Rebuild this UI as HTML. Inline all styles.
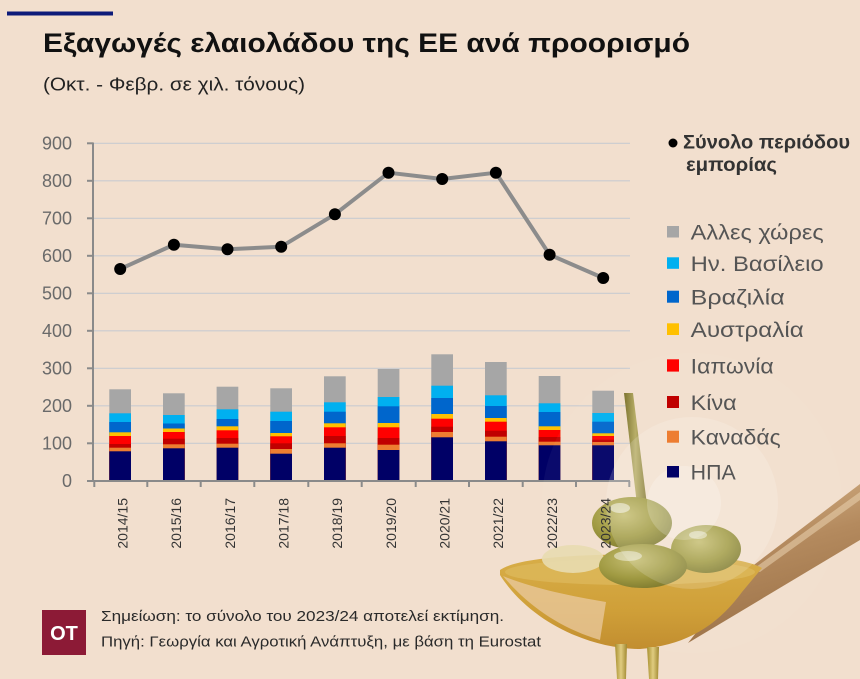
<!DOCTYPE html>
<html>
<head>
<meta charset="utf-8">
<style>
html,body{margin:0;padding:0;background:#f2dfce;}
svg{display:block;}
text{font-family:"Liberation Sans","DejaVu Sans",sans-serif;}
.g{fill:#a6a6a6}.lb{fill:#00b0f0}.b{fill:#0066cc}.y{fill:#ffc000}.r{fill:#ff0000}.dr{fill:#c00000}.o{fill:#ed7d31}.n{fill:#000066}
.yl{font-size:18px;fill:#6a6a6a;text-anchor:end}
.xl{font-size:14px;fill:#333;text-anchor:end}
.lg{font-size:21px;fill:#555}
</style>
</head>
<body>
<svg width="860" height="679" viewBox="0 0 860 679" xmlns="http://www.w3.org/2000/svg">
<defs>
<linearGradient id="hand" x1="0" y1="0" x2="0.3" y2="1">
<stop offset="0" stop-color="#d9b78c"/><stop offset="0.5" stop-color="#b48a5e"/><stop offset="1" stop-color="#9c7248"/>
</linearGradient>
<linearGradient id="bowl" x1="0" y1="0" x2="0" y2="1">
<stop offset="0" stop-color="#d8ae48"/><stop offset="0.6" stop-color="#cf9f38"/><stop offset="1" stop-color="#c28e30"/>
</linearGradient>
<radialGradient id="ol" cx="0.4" cy="0.35" r="0.7">
<stop offset="0" stop-color="#c6be72"/><stop offset="0.6" stop-color="#a09a42"/><stop offset="1" stop-color="#7e7a2e"/>
</radialGradient>
<linearGradient id="stick" x1="0" y1="0" x2="1" y2="0">
<stop offset="0" stop-color="#7d7430"/><stop offset="0.5" stop-color="#b8ae68"/><stop offset="1" stop-color="#857a34"/>
</linearGradient>
<linearGradient id="drip" x1="0" y1="0" x2="1" y2="0">
<stop offset="0" stop-color="#a89030"/><stop offset="0.5" stop-color="#e0cc80"/><stop offset="1" stop-color="#a08830"/>
</linearGradient>
</defs>

<rect x="0" y="0" width="860" height="679" fill="#f2dfce"/>

<!-- top accent line -->
<rect x="7" y="11.5" width="106" height="4" fill="#0d1b7a"/>

<!-- title -->
<text x="43" y="52" font-size="27" font-weight="bold" fill="#111" textLength="647" lengthAdjust="spacingAndGlyphs">Εξαγωγές ελαιολάδου της ΕΕ ανά προορισμό</text>
<text x="43" y="90.5" font-size="18" fill="#222" textLength="262" lengthAdjust="spacingAndGlyphs">(Οκτ. - Φεβρ. σε χιλ. τόνους)</text>

<!-- gridlines -->
<g stroke="#c9cbd0" stroke-width="1.2">
<line x1="93" y1="143.3" x2="630" y2="143.3"/>
<line x1="93" y1="180.8" x2="630" y2="180.8"/>
<line x1="93" y1="218.3" x2="630" y2="218.3"/>
<line x1="93" y1="255.8" x2="630" y2="255.8"/>
<line x1="93" y1="293.3" x2="630" y2="293.3"/>
<line x1="93" y1="330.8" x2="630" y2="330.8"/>
<line x1="93" y1="368.3" x2="630" y2="368.3"/>
<line x1="93" y1="405.8" x2="630" y2="405.8"/>
<line x1="93" y1="443.3" x2="630" y2="443.3"/>
</g>

<!-- y labels -->
<text class="yl" x="72" y="149.5">900</text>
<text class="yl" x="72" y="187">800</text>
<text class="yl" x="72" y="224.5">700</text>
<text class="yl" x="72" y="262">600</text>
<text class="yl" x="72" y="299.5">500</text>
<text class="yl" x="72" y="337">400</text>
<text class="yl" x="72" y="374.5">300</text>
<text class="yl" x="72" y="412">200</text>
<text class="yl" x="72" y="449.5">100</text>
<text class="yl" x="72" y="487">0</text>

<!-- bars -->
<g>
<rect class="g" x="109.3" y="389.3" width="21.7" height="91.7"/>
<rect class="lb" x="109.3" y="413.3" width="21.7" height="67.7"/>
<rect class="b" x="109.3" y="422" width="21.7" height="59"/>
<rect class="y" x="109.3" y="432.3" width="21.7" height="48.7"/>
<rect class="r" x="109.3" y="436" width="21.7" height="45"/>
<rect class="dr" x="109.3" y="444" width="21.7" height="37"/>
<rect class="o" x="109.3" y="447.7" width="21.7" height="33.3"/>
<rect class="n" x="109.3" y="451.3" width="21.7" height="29.7"/>

<rect class="g" x="163" y="393.3" width="21.7" height="87.7"/>
<rect class="lb" x="163" y="415" width="21.7" height="66"/>
<rect class="b" x="163" y="423.5" width="21.7" height="57.5"/>
<rect class="y" x="163" y="428.5" width="21.7" height="52.5"/>
<rect class="r" x="163" y="432" width="21.7" height="49"/>
<rect class="dr" x="163" y="438.7" width="21.7" height="42.3"/>
<rect class="o" x="163" y="444.3" width="21.7" height="36.7"/>
<rect class="n" x="163" y="448.3" width="21.7" height="32.7"/>

<rect class="g" x="216.6" y="386.7" width="21.7" height="94.3"/>
<rect class="lb" x="216.6" y="409.3" width="21.7" height="71.7"/>
<rect class="b" x="216.6" y="419" width="21.7" height="62"/>
<rect class="y" x="216.6" y="426.3" width="21.7" height="54.7"/>
<rect class="r" x="216.6" y="430.3" width="21.7" height="50.7"/>
<rect class="dr" x="216.6" y="438" width="21.7" height="43"/>
<rect class="o" x="216.6" y="443.7" width="21.7" height="37.3"/>
<rect class="n" x="216.6" y="447.7" width="21.7" height="33.3"/>

<rect class="g" x="270.3" y="388.3" width="21.7" height="92.7"/>
<rect class="lb" x="270.3" y="411.7" width="21.7" height="69.3"/>
<rect class="b" x="270.3" y="421" width="21.7" height="60"/>
<rect class="y" x="270.3" y="433" width="21.7" height="48"/>
<rect class="r" x="270.3" y="436.3" width="21.7" height="44.7"/>
<rect class="dr" x="270.3" y="443.3" width="21.7" height="37.7"/>
<rect class="o" x="270.3" y="449" width="21.7" height="32"/>
<rect class="n" x="270.3" y="453.7" width="21.7" height="27.3"/>

<rect class="g" x="324" y="376.3" width="21.7" height="104.7"/>
<rect class="lb" x="324" y="402.3" width="21.7" height="78.7"/>
<rect class="b" x="324" y="411.7" width="21.7" height="69.3"/>
<rect class="y" x="324" y="423.3" width="21.7" height="57.7"/>
<rect class="r" x="324" y="427.3" width="21.7" height="53.7"/>
<rect class="dr" x="324" y="436" width="21.7" height="45"/>
<rect class="o" x="324" y="443.3" width="21.7" height="37.7"/>
<rect class="n" x="324" y="447.7" width="21.7" height="33.3"/>

<rect class="g" x="377.7" y="369" width="21.7" height="112"/>
<rect class="lb" x="377.7" y="397" width="21.7" height="84"/>
<rect class="b" x="377.7" y="406.3" width="21.7" height="74.7"/>
<rect class="y" x="377.7" y="423" width="21.7" height="58"/>
<rect class="r" x="377.7" y="427.3" width="21.7" height="53.7"/>
<rect class="dr" x="377.7" y="438" width="21.7" height="43"/>
<rect class="o" x="377.7" y="444.7" width="21.7" height="36.3"/>
<rect class="n" x="377.7" y="450" width="21.7" height="31"/>

<rect class="g" x="431.3" y="354.3" width="21.7" height="126.7"/>
<rect class="lb" x="431.3" y="385.7" width="21.7" height="95.3"/>
<rect class="b" x="431.3" y="398" width="21.7" height="83"/>
<rect class="y" x="431.3" y="414" width="21.7" height="67"/>
<rect class="r" x="431.3" y="418.7" width="21.7" height="62.3"/>
<rect class="dr" x="431.3" y="426.7" width="21.7" height="54.3"/>
<rect class="o" x="431.3" y="432" width="21.7" height="49"/>
<rect class="n" x="431.3" y="437.3" width="21.7" height="43.7"/>

<rect class="g" x="485" y="362" width="21.7" height="119"/>
<rect class="lb" x="485" y="395.3" width="21.7" height="85.7"/>
<rect class="b" x="485" y="406" width="21.7" height="75"/>
<rect class="y" x="485" y="418" width="21.7" height="63"/>
<rect class="r" x="485" y="421.7" width="21.7" height="59.3"/>
<rect class="dr" x="485" y="430.7" width="21.7" height="50.3"/>
<rect class="o" x="485" y="436.7" width="21.7" height="44.3"/>
<rect class="n" x="485" y="441.3" width="21.7" height="39.7"/>

<rect class="g" x="538.7" y="376" width="21.7" height="105"/>
<rect class="lb" x="538.7" y="403.3" width="21.7" height="77.7"/>
<rect class="b" x="538.7" y="412" width="21.7" height="69"/>
<rect class="y" x="538.7" y="426.3" width="21.7" height="54.7"/>
<rect class="r" x="538.7" y="430" width="21.7" height="51"/>
<rect class="dr" x="538.7" y="437" width="21.7" height="44"/>
<rect class="o" x="538.7" y="441.7" width="21.7" height="39.3"/>
<rect class="n" x="538.7" y="445.3" width="21.7" height="35.7"/>

<rect class="g" x="592.3" y="390.7" width="21.7" height="90.3"/>
<rect class="lb" x="592.3" y="413" width="21.7" height="68"/>
<rect class="b" x="592.3" y="421.7" width="21.7" height="59.3"/>
<rect class="y" x="592.3" y="433.3" width="21.7" height="47.7"/>
<rect class="r" x="592.3" y="436" width="21.7" height="45"/>
<rect class="dr" x="592.3" y="439.7" width="21.7" height="41.3"/>
<rect class="o" x="592.3" y="442" width="21.7" height="39"/>
<rect class="n" x="592.3" y="445.3" width="21.7" height="35.7"/>
</g>

<!-- axes -->
<g stroke="#8a8a8a" stroke-width="2" fill="none">
<line x1="93" y1="142.5" x2="93" y2="482"/>
<line x1="87" y1="143.3" x2="93" y2="143.3"/>
<line x1="87" y1="180.8" x2="93" y2="180.8"/>
<line x1="87" y1="218.3" x2="93" y2="218.3"/>
<line x1="87" y1="255.8" x2="93" y2="255.8"/>
<line x1="87" y1="293.3" x2="93" y2="293.3"/>
<line x1="87" y1="330.8" x2="93" y2="330.8"/>
<line x1="87" y1="368.3" x2="93" y2="368.3"/>
<line x1="87" y1="405.8" x2="93" y2="405.8"/>
<line x1="87" y1="443.3" x2="93" y2="443.3"/>
<line x1="87" y1="481" x2="630" y2="481"/>
<line x1="94.3" y1="481" x2="94.3" y2="487"/>
<line x1="147.3" y1="481" x2="147.3" y2="487"/>
<line x1="200.7" y1="481" x2="200.7" y2="487"/>
<line x1="254.3" y1="481" x2="254.3" y2="487"/>
<line x1="308.3" y1="481" x2="308.3" y2="487"/>
<line x1="361.7" y1="481" x2="361.7" y2="487"/>
<line x1="415.7" y1="481" x2="415.7" y2="487"/>
<line x1="469" y1="481" x2="469" y2="487"/>
<line x1="522.7" y1="481" x2="522.7" y2="487"/>
<line x1="576" y1="481" x2="576" y2="487"/>
<line x1="629.3" y1="481" x2="629.3" y2="487"/>
</g>

<!-- spoon illustration -->
<g>
<circle cx="692" cy="503" r="150" fill="#ffffff" opacity="0.04"/>
<path d="M742,574 L860,484 L860,540 L688,643 Z" fill="url(#hand)"/>
<path d="M752,570 L860,492 L860,500 L760,572 Z" fill="#e6cdaa" opacity="0.6"/>
<path d="M500,570 C520,556 600,552 700,556 C730,558 752,562 762,568 L742,592 C720,622 690,645 640,649 C590,649 530,622 500,575 Z" fill="url(#bowl)"/>
<path d="M503,576 C528,606 560,628 600,640 L606,602 C570,596 532,588 503,576 Z" fill="#e9c9a0" opacity="0.75"/>
<ellipse cx="630" cy="572" rx="125" ry="13" fill="#dcb658" opacity="0.9"/>
<polygon points="624,393 633,393 647,505 637,505" fill="url(#stick)"/>
<ellipse cx="573" cy="559" rx="31" ry="14" fill="#e8dcb0" opacity="0.9"/>
<ellipse cx="632" cy="523" rx="40" ry="26" fill="url(#ol)"/>
<ellipse cx="706" cy="549" rx="35" ry="24" fill="url(#ol)"/>
<ellipse cx="643" cy="566" rx="44" ry="22" fill="url(#ol)"/>
<ellipse cx="620" cy="508" rx="10" ry="5" fill="#ffffff" opacity="0.5"/>
<ellipse cx="628" cy="556" rx="14" ry="5" fill="#ffffff" opacity="0.45"/>
<ellipse cx="698" cy="535" rx="9" ry="4" fill="#ffffff" opacity="0.45"/>
<path d="M615,644 L627,644 L626,679 L617,679 Z" fill="url(#drip)"/>
<path d="M647,647 L659,647 L658,679 L649,679 Z" fill="url(#drip)"/>
<circle cx="692" cy="503" r="86" fill="#ffffff" opacity="0.16"/>
<circle cx="684" cy="503" r="37" fill="#ffffff" opacity="0.2"/>
</g>

<!-- total line -->
<polyline points="120.2,269 173.9,244.7 227.5,249.3 281.2,246.7 334.9,214.3 388.5,172.7 442.2,179 495.9,172.7 549.6,254.7 603.2,278" fill="none" stroke="#8c8c8c" stroke-width="4" stroke-linejoin="round"/>
<g fill="#000">
<circle cx="120.2" cy="269" r="6"/>
<circle cx="173.9" cy="244.7" r="6"/>
<circle cx="227.5" cy="249.3" r="6"/>
<circle cx="281.2" cy="246.7" r="6"/>
<circle cx="334.9" cy="214.3" r="6"/>
<circle cx="388.5" cy="172.7" r="6"/>
<circle cx="442.2" cy="179" r="6"/>
<circle cx="495.9" cy="172.7" r="6"/>
<circle cx="549.6" cy="254.7" r="6"/>
<circle cx="603.2" cy="278" r="6"/>
</g>

<!-- x labels -->
<text class="xl" transform="translate(127.5,498) rotate(-90)">2014/15</text>
<text class="xl" transform="translate(181.2,498) rotate(-90)">2015/16</text>
<text class="xl" transform="translate(234.8,498) rotate(-90)">2016/17</text>
<text class="xl" transform="translate(288.5,498) rotate(-90)">2017/18</text>
<text class="xl" transform="translate(342.2,498) rotate(-90)">2018/19</text>
<text class="xl" transform="translate(395.8,498) rotate(-90)">2019/20</text>
<text class="xl" transform="translate(449.5,498) rotate(-90)">2020/21</text>
<text class="xl" transform="translate(503.2,498) rotate(-90)">2021/22</text>
<text class="xl" transform="translate(556.9,498) rotate(-90)">2022/23</text>
<text class="xl" transform="translate(610.5,498) rotate(-90)">2023/24</text>

<!-- legend -->
<circle cx="673" cy="143" r="4.5" fill="#000"/>
<text x="683" y="148.3" font-size="19" font-weight="bold" fill="#333" textLength="167" lengthAdjust="spacingAndGlyphs">Σύνολο περιόδου</text>
<text x="686" y="171" font-size="19" font-weight="bold" fill="#333" textLength="91" lengthAdjust="spacingAndGlyphs">εμπορίας</text>

<rect class="g" x="667" y="226" width="12" height="11.5"/>
<text class="lg" x="690.7" y="239.5" textLength="133" lengthAdjust="spacingAndGlyphs">Αλλες χώρες</text>
<rect class="lb" x="667" y="257.3" width="12" height="11.5"/>
<text class="lg" x="690.7" y="271" textLength="133" lengthAdjust="spacingAndGlyphs">Ην. Βασίλειο</text>
<rect class="b" x="667" y="290.7" width="12" height="12"/>
<text class="lg" x="690.7" y="304.5" textLength="94" lengthAdjust="spacingAndGlyphs">Βραζιλία</text>
<rect class="y" x="667" y="323.3" width="12" height="11.7"/>
<text class="lg" x="690.7" y="337" textLength="113" lengthAdjust="spacingAndGlyphs">Αυστραλία</text>
<rect class="r" x="667" y="359.3" width="12" height="12.3"/>
<text class="lg" x="690.7" y="373.5" textLength="83" lengthAdjust="spacingAndGlyphs">Ιαπωνία</text>
<rect class="dr" x="667" y="396" width="12" height="12"/>
<text class="lg" x="690.7" y="410" textLength="46" lengthAdjust="spacingAndGlyphs">Κίνα</text>
<rect class="o" x="667" y="430.7" width="12" height="12"/>
<text class="lg" x="690.7" y="444.7" textLength="90" lengthAdjust="spacingAndGlyphs">Καναδάς</text>
<rect class="n" x="667" y="466" width="12" height="11.5"/>
<text class="lg" x="690.7" y="479.7" textLength="45" lengthAdjust="spacingAndGlyphs">ΗΠΑ</text>

<!-- footer -->
<rect x="42" y="610" width="44" height="45" fill="#8c1a36"/>
<text x="64" y="640" font-size="20" font-weight="bold" fill="#ffffff" text-anchor="middle">OT</text>
<text x="101" y="621" font-size="15" fill="#2a2a2a" textLength="403" lengthAdjust="spacingAndGlyphs">Σημείωση: το σύνολο του 2023/24 αποτελεί εκτίμηση.</text>
<text x="101" y="646.5" font-size="15" fill="#2a2a2a" textLength="440" lengthAdjust="spacingAndGlyphs">Πηγή: Γεωργία και Αγροτική Ανάπτυξη, με βάση τη Eurostat</text>
</svg>
</body>
</html>
